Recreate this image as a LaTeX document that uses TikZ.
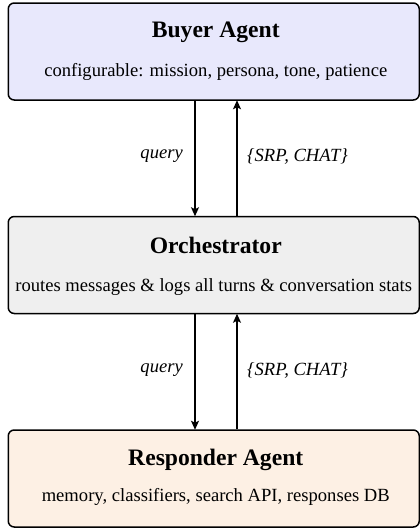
\documentclass[tikz,border=0pt]{standalone}
\usepackage{fontspec}
\setmainfont{Liberation Serif}
\usetikzlibrary{arrows.meta,calc}
\definecolor{buyerfill}{HTML}{E8E8FC}
\definecolor{orchfill}{HTML}{EFEFEF}
\definecolor{respfill}{HTML}{FDF0E4}
\tikzset{
  agentbox/.style={draw=black, line width=1.5pt, rounded corners=6pt,
    minimum width=411pt, minimum height=97pt, inner sep=0pt},
  titletext/.style={font=\fontsize{23.6}{28}\selectfont\bfseries, inner sep=0pt},
  subtext/.style={font=\fontsize{18.6}{22}\selectfont, inner sep=0pt},
  flow/.style={line width=1.4pt, -{Stealth[length=9pt,width=8pt,inset=2pt]}, shorten >=-0.5pt},
  flowlabel/.style={font=\fontsize{18.6}{22}\selectfont\itshape, inner sep=0pt}
}
\begin{document}
\begin{tikzpicture}[x=1pt,y=-1pt]
\useasboundingbox (0,0) rectangle (420,528);
\node[agentbox, fill=buyerfill] (buyer) at (213.75,51.5) {};
\node[agentbox, fill=orchfill] (orch) at (213.75,265) {};
\node[agentbox, fill=respfill] (resp) at (213.75,478.5) {};

\node[titletext] (buyerT) at ($(buyer.center)+(2,-19.5)$) {Buyer Agent};
\node[subtext] (buyerS) at ($(buyer.center)+(2,20.5)$) {configurable: mission, persona, tone, patience};
\node[titletext] (orchT) at ($(orch.center)+(2,-20)$) {Orchestrator};
\node[subtext] (orchS) at ($(orch.center)+(0,22)$) {routes messages \& logs all turns \& conversation stats};
\node[titletext] (respT) at ($(resp.center)+(2,-18.5)$) {Responder Agent};
\node[subtext] (respS) at ($(resp.center)+(2,18.5)$) {memory, classifiers, search API, responses DB};

\coordinate (dx) at (195,0);
\coordinate (ux) at (237,0);

\draw[flow] (buyer.south -| dx) -- (orch.north -| dx);
\draw[flow] (orch.north -| ux) -- (buyer.south -| ux);
\draw[flow] (orch.south -| dx) -- (resp.north -| dx);
\draw[flow] (resp.north -| ux) -- (orch.south -| ux);

\node[flowlabel, anchor=east] (q1) at (183,156) {query};
\node[flowlabel, anchor=west] (r1) at (247,156) {\{SRP, CHAT\}};
\node[flowlabel, anchor=east] (q2) at (183,370) {query};
\node[flowlabel, anchor=west] (r2) at (247,370) {\{SRP, CHAT\}};
\end{tikzpicture}
\end{document}
